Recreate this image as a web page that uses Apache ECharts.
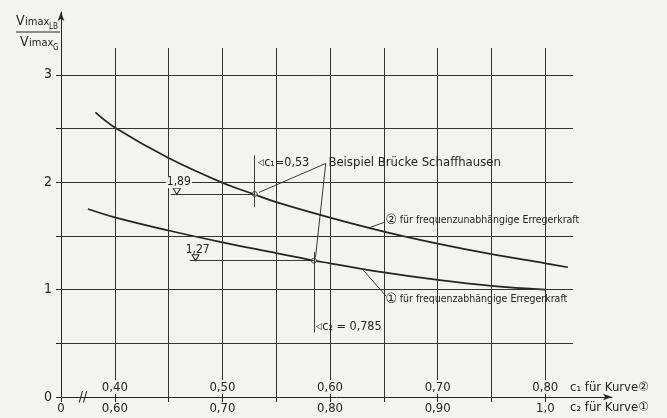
<!DOCTYPE html>
<html>
<head>
<meta charset="utf-8">
<script src="https://cdn.jsdelivr.net/npm/echarts@6/dist/echarts.min.js"></script>
<style>
  html, body { margin: 0; padding: 0; background: #f3f3f1; }
  #chart { width: 667px; height: 418px; }
</style>
</head>
<body>
<div id="chart"></div>
<script>
// tick positions: c1 (curve 2) on top row, c2 (curve 1) on bottom row
const c1Labels = [0.40, 0.50, 0.60, 0.70, 0.80];
const c2Labels = [0.60, 0.70, 0.80, 0.90, 1.0];
const c1Grid = [0.40, 0.45, 0.50, 0.55, 0.60, 0.65, 0.70, 0.75, 0.80];
const c2Ticks = [0.55, 0.60, 0.65, 0.70, 0.75, 0.80, 0.85, 0.90, 0.95, 1.0];
const yLabels = [0, 1, 2, 3];
const yGrid = [0.5, 1, 1.5, 2, 2.5, 3];

// curve 2: für frequenzunabhängige Erregerkraft (x = c1)
const curve2C1 = [0.382, 0.40, 0.45, 0.50, 0.53, 0.55, 0.60, 0.65, 0.70, 0.75, 0.80, 0.821];
const curve2Y  = [2.65, 2.51, 2.225, 1.995, 1.885, 1.815, 1.67, 1.54, 1.428, 1.33, 1.245, 1.208];

// curve 1: für frequenzabhängige Erregerkraft (x = c2)
const curve1C2 = [0.575, 0.60, 0.65, 0.70, 0.75, 0.785, 0.80, 0.85, 0.90, 0.95, 1.0];
const curve1Y  = [1.75, 1.673, 1.55, 1.44, 1.34, 1.27, 1.245, 1.16, 1.09, 1.035, 1.0];

// Beispiel Brücke Schaffhausen
const exC1 = 0.53, exY2 = 1.89;
const exC2 = 0.785, exY1 = 1.27;

const INK = '#242424';
const BG = '#f3f3f1';
const FONT = '"DejaVu Sans Condensed", "DejaVu Sans", "Noto Sans CJK SC", sans-serif';

const comma = (v, d) => v.toFixed(d).replace('.', ',');
const pair = (xs, ys) => xs.map((x, i) => [x, ys[i]]);
const seg = (a, b) => [{ coord: a }, { coord: b }];

const gridLines = [];
c1Grid.forEach(x => gridLines.push(seg([x, 0], [x, 3.25])));
yGrid.forEach(y => gridLines.push(seg([0.35, y], [0.8257, y])));

function textPoint(coord, text, opts) {
  return {
    coord: coord,
    symbol: 'circle',
    symbolSize: 1,
    itemStyle: { color: 'transparent' },
    label: Object.assign({
      show: true, position: 'right', distance: 0, formatter: text,
      color: INK, fontFamily: FONT, fontSize: 11
    }, opts || {})
  };
}
function triangle(coord) {
  return {
    coord: coord, symbol: 'triangle', symbolRotate: 180, symbolSize: [7, 6],
    itemStyle: { color: BG, borderColor: INK, borderWidth: 1 },
    label: { show: false }
  };
}
const circled = { c: { fontSize: 14, fontFamily: FONT, color: INK, padding: [0, 3, 0, 0] } };
const arrowRich = { a: { fontSize: 9, fontFamily: FONT, color: INK } };

const chart = echarts.init(document.getElementById('chart'));
chart.setOption({
  backgroundColor: BG,
  animation: false,
  textStyle: { fontFamily: FONT, color: INK },
  grid: { left: 61, right: 55, top: 12, bottom: 21, containLabel: false, outerBoundsMode: 'none' },
  xAxis: [{
    type: 'value', min: 0.35, max: 0.862, position: 'bottom', z: 5,
    axisLine: { onZero: false, lineStyle: { color: INK, width: 1 }, symbol: ['none', 'arrow'], symbolSize: [5, 9] },
    axisTick: { show: false },
    axisLabel: {
      inside: true, customValues: c1Labels, margin: 3, fontSize: 13, color: INK, fontFamily: FONT,
      backgroundColor: BG, padding: [1, 2, 0, 2], formatter: v => comma(v, 2)
    },
    splitLine: { show: false },
    name: 'c₁ für Kurve②', nameLocation: 'end', nameGap: -42,
    nameTextStyle: { align: 'left', verticalAlign: 'bottom', padding: [0, 0, 3, 0], fontSize: 13, color: INK, fontFamily: FONT }
  }, {
    type: 'value', min: 0.55, max: 1.062, position: 'bottom', z: 5,
    axisLine: { show: false, onZero: false },
    axisTick: { show: true, customValues: c2Ticks, length: 5, lineStyle: { color: INK } },
    axisLabel: {
      customValues: [0.55].concat(c2Labels), margin: 5, fontSize: 13, color: INK, fontFamily: FONT,
      formatter: v => Math.abs(v - 0.55) < 1e-6 ? '0' : (v > 0.99 ? '1,0' : comma(v, 2))
    },
    splitLine: { show: false },
    name: 'c₂ für Kurve①', nameLocation: 'end', nameGap: -42,
    nameTextStyle: { align: 'left', verticalAlign: 'top', padding: [4, 0, 0, 0], fontSize: 13, color: INK, fontFamily: FONT }
  }],
  yAxis: {
    type: 'value', min: 0, max: 3.585, z: 5,
    axisLine: { show: true, onZero: false, lineStyle: { color: INK, width: 1 }, symbol: ['none', 'arrow'], symbolSize: [5, 9] },
    axisTick: { show: true, customValues: [0].concat(yGrid), length: 5, lineStyle: { color: INK } },
    axisLabel: { customValues: yLabels, margin: 9, fontSize: 14, color: INK, fontFamily: FONT },
    splitLine: { show: false }
  },
  graphic: [
    { type: 'text', x: 16, y: 21, style: { text: 'V', font: '14px ' + FONT, fill: INK, verticalAlign: 'middle' } },
    { type: 'text', x: 25, y: 22, style: { text: 'imax', font: '11px ' + FONT, fill: INK, verticalAlign: 'middle' } },
    { type: 'text', x: 49, y: 27, style: { text: 'LB', font: '8px ' + FONT, fill: INK, verticalAlign: 'middle' } },
    { type: 'line', shape: { x1: 16, y1: 32, x2: 60, y2: 32 }, style: { stroke: INK, lineWidth: 1 } },
    { type: 'text', x: 20, y: 42, style: { text: 'V', font: '14px ' + FONT, fill: INK, verticalAlign: 'middle' } },
    { type: 'text', x: 29, y: 43, style: { text: 'imax', font: '11px ' + FONT, fill: INK, verticalAlign: 'middle' } },
    { type: 'text', x: 53, y: 48, style: { text: 'G', font: '8px ' + FONT, fill: INK, verticalAlign: 'middle' } }
  ],
  series: [{
    name: 'grid', type: 'line', xAxisIndex: 0, data: [], z: 1, silent: true,
    markLine: {
      silent: true, symbol: ['none', 'none'], label: { show: false },
      lineStyle: { color: '#333333', width: 1, type: 'solid' },
      data: gridLines
    },
    markPoint: { silent: true, data: [textPoint([0.3705, 0], '//', { position: 'inside', fontSize: 14 })] }
  }, {
    name: 'Kurve 2', type: 'line', xAxisIndex: 0, z: 3,
    data: pair(curve2C1, curve2Y), smooth: 0.4, showSymbol: false,
    lineStyle: { color: INK, width: 1.7 }
  }, {
    name: 'Kurve 1', type: 'line', xAxisIndex: 1, z: 3,
    data: pair(curve1C2, curve1Y), smooth: 0.4, showSymbol: false,
    lineStyle: { color: INK, width: 1.7 }
  }, {
    name: 'Beispiel c1', type: 'scatter', xAxisIndex: 0, z: 4,
    data: [[exC1, exY2]], symbol: 'circle', symbolSize: 5,
    itemStyle: { color: BG, borderColor: INK, borderWidth: 1 },
    markLine: {
      silent: true, symbol: ['none', 'none'], label: { show: false },
      lineStyle: { color: INK, width: 0.9, type: 'solid' },
      data: [
        seg([0.452, exY2], [exC1, exY2]),
        seg([exC1, 2.25], [exC1, 1.77]),
        seg([0.596, 2.175], [0.534, 1.905]),
        seg([0.596, 2.175], [exC2 - 0.2 + 0.0015, 1.30]),
        seg([0.650, 1.625], [0.636, 1.575]),
        seg([0.652, 0.94], [0.631, 1.18])
      ]
    },
    markPoint: {
      silent: true,
      data: [
        textPoint([0.5325, 2.18], '{a|◁}c₁=0,53', { fontSize: 12.5, rich: arrowRich }),
        textPoint([0.598, 2.18], 'Beispiel Brücke Schaffhausen', { fontSize: 13 }),
        textPoint([0.4595, 2.0], comma(exY2, 2), { position: 'inside', fontSize: 12, backgroundColor: BG, padding: [0, 1] }),
        triangle([0.4576, 1.915]),
        textPoint([0.651, 1.648], '{c|②}für frequenzunabhängige Erregerkraft', { fontSize: 10.5, rich: circled }),
        textPoint([0.651, 0.912], '{c|①}für frequenzabhängige Erregerkraft', { fontSize: 10.5, rich: circled })
      ]
    }
  }, {
    name: 'Beispiel c2', type: 'scatter', xAxisIndex: 1, z: 4,
    data: [[exC2, exY1]], symbol: 'circle', symbolSize: 5,
    itemStyle: { color: BG, borderColor: INK, borderWidth: 1 },
    markLine: {
      silent: true, symbol: ['none', 'none'], label: { show: false },
      lineStyle: { color: INK, width: 0.9, type: 'solid' },
      data: [
        seg([0.6697, exY1], [exC2, exY1]),
        seg([exC2, 1.35], [exC2, 0.60])
      ]
    },
    markPoint: {
      silent: true,
      data: [
        textPoint([0.677, 1.369], comma(exY1, 2), { position: 'inside', fontSize: 12 }),
        triangle([0.675, 1.297]),
        textPoint([0.7865, 0.652], '{a|◁}c₂ = 0,785', { fontSize: 12.5, rich: arrowRich })
      ]
    }
  }]
});
</script>
</body>
</html>
